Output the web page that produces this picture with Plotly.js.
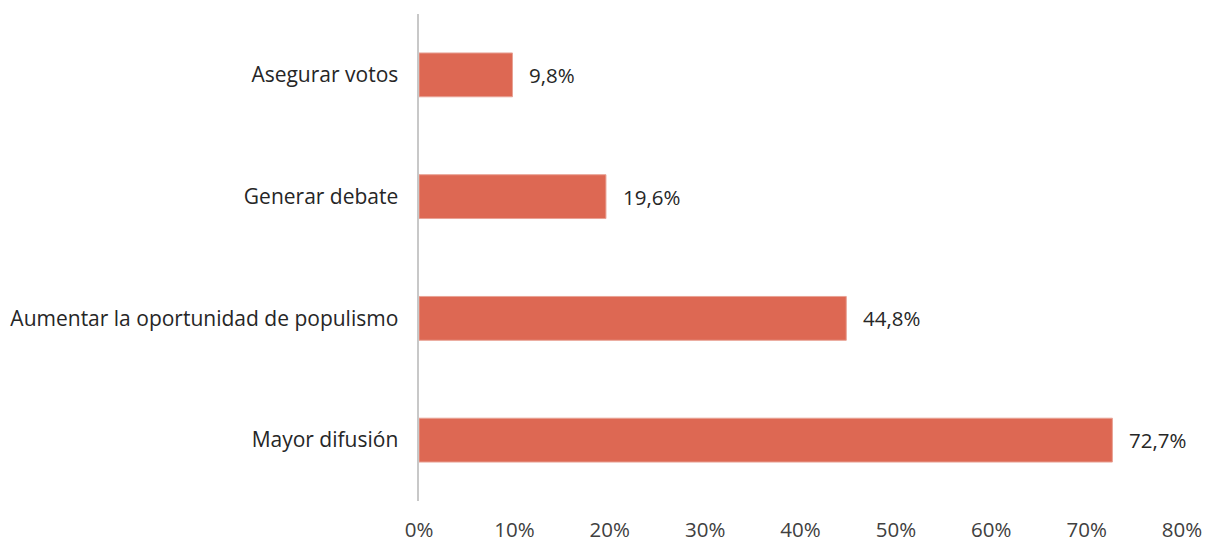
<!DOCTYPE html>
<html>
<head>
<meta charset="utf-8">
<script src="https://cdn.plot.ly/plotly-3.0.1.min.js"></script>
<style>html,body{margin:0;padding:0;background:#fff;}#chart{width:1205px;height:541px;}</style>
</head>
<body>
<div id="chart"></div>
<script>
const categories = ["Mayor difusión", "Aumentar la oportunidad de populismo", "Generar debate", "Asegurar votos"];
const values = [72.7, 44.8, 19.6, 9.8];
const valueLabels = ["72,7%", "44,8%", "19,6%", "9,8%"];
const tickVals = [0, 10, 20, 30, 40, 50, 60, 70, 80];
const tickText = ["0%", "10%", "20%", "30%", "40%", "50%", "60%", "70%", "80%"];

const font = "Open Sans, Liberation Sans, sans-serif";

const trace = {
  type: "bar",
  orientation: "h",
  y: categories,
  x: values,
  width: 0.36,
  marker: { color: "#DD6853", line: { color: "#E8A295", width: 1 } },
  hoverinfo: "none"
};

const annotations = categories.map((c, i) => ({
  x: values[i], y: c, xref: "x", yref: "y",
  text: valueLabels[i], showarrow: false,
  xanchor: "left", yanchor: "middle", xshift: 15,
  font: { family: font, size: 20.5, color: "#262626" }
}));

const layout = {
  width: 1205, height: 541,
  margin: { l: 419, r: 23, t: 14, b: 40 },
  paper_bgcolor: "#fff", plot_bgcolor: "#fff",
  showlegend: false,
  xaxis: {
    range: [0, 80], tickvals: tickVals, ticktext: tickText,
    showgrid: false, zeroline: false, showline: false, ticks: "",
    ticklabelstandoff: 14,
    tickfont: { family: font, size: 20.5, color: "#404040" }
  },
  yaxis: {
    range: [-0.5, 3.5], categoryorder: "array", categoryarray: categories,
    showgrid: false, zeroline: false, showline: true, linecolor: "#C8C8C8", linewidth: 2.5,
    ticks: "", ticklabelstandoff: 14,
    tickfont: { family: font, size: 21, color: "#262626" }
  },
  annotations: annotations
};

Plotly.newPlot("chart", [trace], layout, { displayModeBar: false, staticPlot: true });
</script>
</body>
</html>
